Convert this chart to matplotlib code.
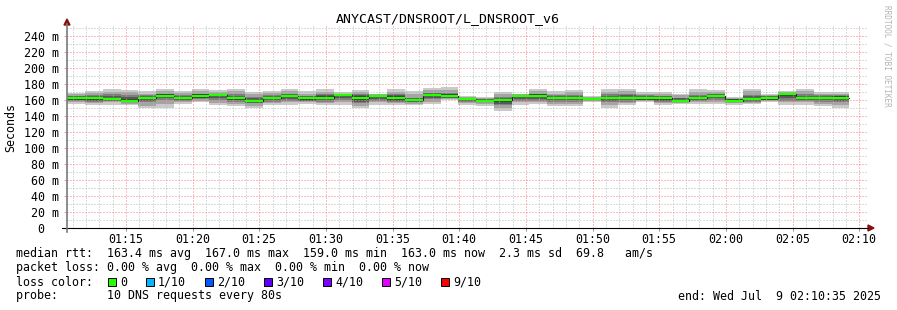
# SmokePing style latency graph (median + smoke bands) for L_DNSROOT_v6
import matplotlib
matplotlib.use("Agg")
import matplotlib.pyplot as plt
from matplotlib.patches import Polygon, Rectangle
from matplotlib.lines import Line2D
import numpy as np

title = "ANYCAST/DNSROOT/L_DNSROOT_v6"
view_start = 10 + 35 / 60     # 01:10:35, minutes after 01:00
view_end = 70 + 35 / 60       # 02:10:35
data_start = 10 + 36 / 60
step_min = 80 / 60            # one probe round every 80 s

# median rtt per round, ms
median = [162.2, 162, 161, 159, 162.5, 165.6, 162.5, 165, 166, 162, 158.8, 162.5, 165, 162,
          163, 166, 163, 165.5, 163, 159.6, 166.6, 165.5, 161.5, 159, 159.5, 165.5, 165.5, 162.5,
          162.5, 161.5, 162.5, 162.5, 162, 162, 159, 162.5, 165, 159.3, 161, 162.5, 167, 162.5,
          162.5, 163]
# smoke: slowest / fastest ping
ping_max = [169, 171, 173.7, 172.5, 171, 173.7, 171, 173.7, 172.5, 173.7, 170, 171, 173.7, 171,
            173.7, 170, 172.5, 167.5, 173.7, 171, 175, 176, 165, 163.7, 170, 167.5, 173.7, 171,
            172.5, 165, 173.7, 173.7, 170, 170, 167.5, 173.7, 172.5, 163.7, 173.7, 167.5, 171,
            173.7, 170, 170]
ping_min = [155, 154, 154, 154, 150, 150, 155, 157.5, 154, 152.5, 150, 154, 154, 155,
            154, 154, 150, 154, 154, 154, 155, 160, 154, 152.5, 146, 154, 155, 152.5,
            152.5, 157.5, 150, 154, 157.5, 154, 155, 155, 155, 154, 155, 157.5, 154,
            154, 152.5, 150]
# 2nd / 9th ping
ping_hi2 = [167, 169, 170, 170, 168, 171, 169, 171, 170, 171, 167, 169, 171, 168,
            170, 168, 170, 167, 170, 168, 172, 173, 164, 162.5, 167, 167, 171, 168,
            170, 164, 170, 171, 168, 168, 166, 170, 170, 162.5, 171, 166, 170,
            171, 168, 167]
ping_lo2 = [157, 156, 157, 155, 153, 155, 157, 159, 156, 155, 153, 156, 157, 157,
            156, 157, 153, 157, 156, 155, 158, 161, 156, 155, 150, 157, 157, 155,
            155, 158.5, 154, 156, 159, 156, 156.5, 157, 157, 156, 156.5, 158.5, 157,
            157, 155, 154]
# 3rd / 8th ping
ping_hi3 = [165, 166, 167, 166, 166, 168, 166, 168, 168, 167, 164, 166, 168, 165,
            167, 167.5, 167, 166.5, 167, 163, 169, 169, 163, 161.5, 164, 166.5, 168, 166,
            166, 163, 167, 168, 166, 165, 163, 166, 168, 161.5, 166, 165, 168.5,
            167, 166, 166]
ping_lo3 = [159, 158, 159, 157, 157, 160, 159, 161, 160, 158, 156, 158, 159, 159,
            158, 160, 156, 159, 158, 157, 161, 162.5, 158, 157, 154, 159, 159, 158,
            158, 159.5, 157, 158, 160, 158, 158, 159, 160, 157.5, 158, 160, 159,
            159, 158, 157]
# 4th / 7th ping
ping_hi4 = [164.5, 165, 165, 164, 165, 167.5, 165, 167.5, 167.5, 165.5, 162.5, 165, 167.5, 164.5,
            166, 167.2, 166, 166.5, 166, 162, 168.5, 168, 163, 161, 162.5, 166.5, 167.5, 165,
            165, 163, 165.5, 166, 165, 164.5, 162, 165, 167.5, 161.2, 164.5, 164.5, 168.2,
            165.5, 165, 165.5]
ping_lo4 = [159.8, 159, 159.2, 157.5, 159, 162, 160, 162, 162, 159.5, 156.8, 159.5, 161, 159.2,
            160, 162, 158, 161.5, 159, 157.8, 163, 163, 158.8, 157.2, 155.5, 161.5, 161.5, 159.5,
            159.5, 159.8, 159, 159.5, 160.2, 159, 158, 160, 162, 157.8, 159, 160.2, 162,
            160, 159.5, 159]
# 5th / 6th ping
ping_hi5 = [163.5, 163.5, 163, 161, 164, 167, 163.5, 167, 167, 163.5, 160.5, 164, 166.5, 163.5,
            164.5, 167, 164.5, 166.5, 164.5, 161, 168, 167, 163, 160, 161, 166.5, 167, 164,
            164, 163, 164, 164, 163.5, 163.5, 160.5, 164, 166.5, 161, 162.5, 164, 168,
            164, 164, 164.5]
ping_lo5 = [160.5, 160, 159.5, 158, 161, 163.5, 161, 163, 164.5, 160.5, 157.5, 161, 163.5, 159.5,
            161.5, 164.5, 160.5, 164, 160, 158.5, 165, 164, 159.5, 157.5, 157.5, 164, 164, 161,
            161, 160, 161, 161, 160.5, 160, 158, 161, 163.5, 158, 160, 160.5, 165.5,
            161, 161, 161.5]

tick_min = [15, 20, 25, 30, 35, 40, 45, 50, 55, 60, 65, 70]
tick_lbl = ["01:15", "01:20", "01:25", "01:30", "01:35", "01:40", "01:45", "01:50",
            "01:55", "02:00", "02:05", "02:10"]
y_ticks = [0, 20, 40, 60, 80, 100, 120, 140, 160, 180, 200, 220, 240]
y_lbl = ["0  ", "20 m", "40 m", "60 m", "80 m", "100 m", "120 m", "140 m", "160 m",
         "180 m", "200 m", "220 m", "240 m"]

loss_lbl = ["0", "1/10", "2/10", "3/10", "4/10", "5/10", "9/10"]
loss_col = ["#26ff00", "#00b8ff", "#0059ff", "#5e00ff", "#7e00ff", "#dd00ff", "#ff0000"]

stats_line = "median rtt:  163.4 ms avg  167.0 ms max  159.0 ms min  163.0 ms now  2.3 ms sd  69.8   am/s"
loss_line = "packet loss: 0.00 % avg  0.00 % max  0.00 % min  0.00 % now"
probe_line = "probe:       10 DNS requests every 80s"
end_line = "end: Wed Jul  9 02:10:35 2025"

W, H = 897, 310
MONO = "DejaVu Sans Mono"
FS = 8.4


def fx(px):
    return px / W


def fy(py):
    return 1 - py / H


def main():
    fig = plt.figure(figsize=(W / 100, H / 100), dpi=100)
    fig.patch.set_facecolor("white")
    ax = fig.add_axes([fx(67), fy(228), 800 / W, 202 / H])
    ax.set_xlim(view_start, view_end)
    ax.set_ylim(0, 252.5)
    for s in ax.spines.values():
        s.set_visible(False)

    n = len(median)
    edges = data_start + step_min * np.arange(n + 1)

    def ext(a):
        return list(a) + [a[-1]]

    bands = [(ping_min, ping_max, "#cacaca"),
             (ping_lo2, ping_hi2, "#a4a4a4"),
             (ping_lo3, ping_hi3, "#7e7e7e"),
             (ping_lo4, ping_hi4, "#585858"),
             (ping_lo5, ping_hi5, "#323232")]
    for lo, hi, c in bands:
        ax.fill_between(edges, ext(lo), ext(hi), step="post", color=c, lw=0, zorder=1)

    ax.step(edges, ext(median), where="post", color="#202020", lw=0.8, zorder=3)
    ax.hlines(median, edges[:-1], edges[1:], colors=loss_col[0], lw=1.7, zorder=4)

    # grid: minor grey, major red, both dotted
    minor_x = [m for m in np.arange(11, 71) if m % 5 != 0]
    minor_y = [v for v in range(10, 251, 10) if v % 20 != 0]
    grid_kw = dict(lw=0.72, ls=(0, (1, 2)), zorder=2, snap=True)
    for m in minor_x:
        ax.axvline(m, color="#b8b8b8", **grid_kw)
    for v in minor_y:
        ax.axhline(v, color="#b8b8b8", **grid_kw)
    for m in tick_min:
        ax.axvline(m, color="#f08080", **grid_kw)
    for v in y_ticks[1:]:
        ax.axhline(v, color="#f08080", **grid_kw)

    ax.set_xticks(tick_min, tick_lbl)
    ax.set_yticks(y_ticks, y_lbl)
    ax.tick_params(axis="x", length=2, width=0.7, color="#909090", pad=1.5, labelsize=FS)
    ax.tick_params(axis="y", length=2, width=0.7, color="#f09a9a", pad=4, labelsize=FS)
    for lab in ax.get_xticklabels() + ax.get_yticklabels():
        lab.set_fontfamily(MONO)

    # axes lines with arrow heads (pixel coordinates)
    fig.add_artist(Line2D([fx(62), fx(868)], [fy(228), fy(228)], color="black", lw=0.8))
    fig.add_artist(Line2D([fx(67), fx(67)], [fy(232), fy(24)], color="#7a7a7a", lw=1.2))
    fig.add_artist(Polygon([[fx(64), fy(25)], [fx(70), fy(25)], [fx(67), fy(19)]],
                           closed=True, color="#8b1010", transform=fig.transFigure))
    fig.add_artist(Polygon([[fx(868), fy(225)], [fx(868), fy(231)], [fx(874), fy(228)]],
                           closed=True, color="#8b1010", transform=fig.transFigure))

    fig.text(fx(448), fy(19), title, ha="center", va="center", family=MONO, fontsize=9.5)
    fig.text(fx(11), fy(127), "Seconds", rotation=90, ha="center", va="center",
             family=MONO, fontsize=FS)
    fig.text(fx(887), fy(5), "RRDTOOL / TOBI OETIKER", rotation=-90, ha="center", va="top",
             family=MONO, fontsize=5.6, color="#b4b4b4")

    fig.text(fx(16), fy(254), stats_line, va="center", family=MONO, fontsize=FS)
    fig.text(fx(16), fy(268), loss_line, va="center", family=MONO, fontsize=FS)
    fig.text(fx(16), fy(282), "loss color:", va="center", family=MONO, fontsize=FS)
    fig.text(fx(16), fy(296), probe_line, va="center", family=MONO, fontsize=FS)
    fig.text(fx(881), fy(296), end_line, ha="right", va="center", family=MONO, fontsize=FS)

    x = 108
    for lab, c in zip(loss_lbl, loss_col):
        fig.add_artist(Rectangle((fx(x), fy(286)), 8 / W, 8 / H, facecolor=c,
                                 edgecolor="black", lw=0.7, transform=fig.transFigure))
        fig.text(fx(x + 12), fy(282), lab, va="center", family=MONO, fontsize=FS)
        x += 12 + 7 * len(lab) + 19

    fig.savefig("out.png", dpi=100)


if __name__ == '__main__':
    main()
